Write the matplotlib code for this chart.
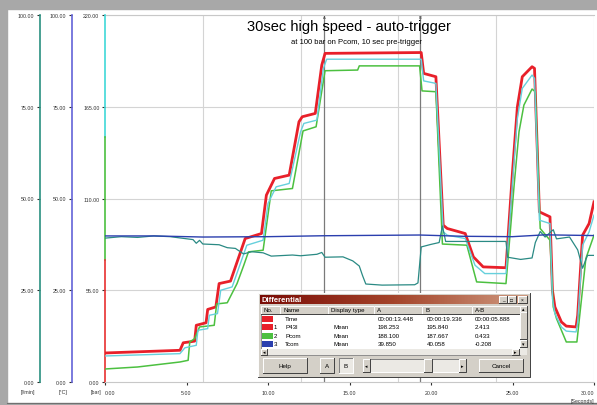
import matplotlib
import numpy as np
matplotlib.use("Agg")  # headless, we only save a PNG
import matplotlib.pyplot as plt
from matplotlib.colors import LinearSegmentedColormap
from matplotlib.patches import Rectangle

plt.rcParams["font.family"] = ["Liberation Sans", "DejaVu Sans"]

# --- traces (time in s) ---
P43L_T = [0, 4.6, 4.8, 5.5, 5.6, 6.2, 6.3, 6.8, 7.0, 7.7, 8.6, 9.6, 9.9, 10.4, 11.3, 11.9, 12.1, 12.9,
          13.3, 13.5, 19.4, 19.55, 20.3, 20.75, 21.0, 22.1, 22.6, 23.2, 24.6, 25.0, 25.3, 25.6, 26.2,
          26.35, 26.65, 27.3, 27.45, 27.6, 28.0, 28.3, 28.9, 29.0, 29.3, 29.7, 30.0]
P43L_BAR = [17.4, 19, 23.5, 24.5, 34, 35.5, 43.5, 45, 59, 60.5, 86, 89, 112, 122, 124, 156, 159, 161,
            190, 197, 197.5, 185, 183, 94, 92, 89, 75, 69, 68.5, 126, 165, 183, 189,
            188, 102, 99, 55, 45, 36, 33.5, 33, 40, 88, 95, 108]

PCYAN_T = [0, 4.6, 4.9, 5.6, 5.7, 6.3, 6.4, 6.9, 7.1, 7.8, 8.7, 9.7, 10.0, 10.5, 11.3, 12.0, 12.2, 13.0,
           13.4, 13.6, 19.4, 19.55, 20.3, 20.75, 21.0, 22.1, 22.7, 23.3, 24.6, 25.0, 25.3, 25.6, 26.2,
           26.35, 26.65, 27.3, 27.45, 27.6, 28.0, 28.3, 28.9, 29.0, 29.3, 29.7, 30.0]
PCYAN_BAR = [15.6, 17, 20.5, 22, 31, 32, 40, 41, 55, 57, 82, 85, 107, 117, 119, 150, 155, 157,
             188, 193.5, 193.5, 180.5, 179, 90, 88, 86, 70, 65, 65, 120, 158, 176, 184,
             182, 97, 95, 50, 41, 33, 30.5, 30, 36, 82, 90, 100]

PCOM_T = [0, 2.0, 4.6, 5.1, 5.2, 5.5, 5.8, 6.7, 6.85, 7.5, 8.1, 8.5, 8.8, 9.7, 10.2, 11.5, 12.15, 12.95,
          13.5, 15.5, 15.6, 19.3, 19.45, 20.3, 20.7, 22.2, 22.8, 24.6, 25.1, 25.4, 25.7, 26.2,
          26.4, 26.7, 27.3, 27.5, 27.7, 28.3, 28.95, 29.5, 30.0]
PCOM_BAR = [7.8, 9, 12, 13, 24, 26, 33, 34, 46.8, 47.5, 59, 69.6, 78, 79, 114.6, 116, 150.5, 153,
            186.6, 187, 189.5, 189.5, 174.5, 174, 82.7, 82, 60, 59, 118, 150, 166, 175.6,
            174, 92, 85, 45, 38, 24, 24, 74, 88]

FLOW_T = [0, 1, 2, 3, 4, 5.4, 5.6, 5.8, 6.0, 7.0, 7.5, 8.0, 8.5, 9.0, 9.7, 10.2, 11.5, 12.0, 13.0, 13.3,
          13.5, 14.6, 15.2, 15.6, 15.8, 16.0, 17.0, 19.0, 19.2, 19.4, 20.0, 20.5, 20.7, 20.9, 24.6,
          24.7, 25.5, 26.2, 26.4, 26.7, 27.0, 27.5, 27.7, 28.5, 29.0, 29.3, 29.6, 30.0]
FLOW_LMIN = [39.2, 39.6, 39.4, 39.8, 39.6, 38.8, 37.8, 38.6, 37.6, 37.4, 36.6, 36.4, 34.9, 35.5, 35.2,
             34.3, 34.6, 34.4, 34.8, 35.3, 34.0, 34.1, 33.0, 31.6, 29.0, 26.7, 26.4, 26.5, 27.0, 36.8,
             37.5, 38.0, 42.5, 38.3, 38.3, 34.0, 33.4, 33.8, 38.0, 41.0, 39.5, 41.5, 39.0, 39.5, 36.0,
             31.0, 34.5, 34.5]

TCOM_T = [0, 3, 6, 10, 13.4, 19.3, 22, 25, 27, 30]
TCOM_C = [39.8, 39.8, 39.5, 39.6, 39.85, 40.05, 39.7, 39.6, 40.1, 39.9]

CURSOR_A = 13.448
CURSOR_B = 19.336

X_TICKS = [0, 5, 10, 15, 20, 25, 30]
X_GRID = [6, 12, 18, 24, 30]
BAR_TICKS = [0, 55, 110, 165, 220]
PCT_TICKS = [0, 25, 50, 75, 100]

# differential dialog contents
DIFF_NO = ["", "1", "2", "3"]
DIFF_NAME = ["Time", "P43l", "Pcom", "Tcom"]
DIFF_TYPE = ["", "Mean", "Mean", "Mean"]
DIFF_A = ["00:00:13.448", "198.253", "188.100", "39.850"]
DIFF_B = ["00:00:19.336", "195.840", "187.667", "40.058"]
DIFF_AB = ["00:00:05.888", "2.413", "0.433", "-0.208"]

RED = "#e8202a"
CYAN = "#66d0dc"
GREEN = "#4cc040"
BLUE = "#2b3fae"
TEAL = "#2a8a84"
DIFF_SWATCH = [RED, RED, GREEN, BLUE]

W, H = 597, 406
L, T, R, B = 105, 16, 594, 383


def rect(left, top, right, bottom):
    return [left / W, 1 - bottom / H, (right - left) / W, (bottom - top) / H]


fig = plt.figure(figsize=(W / 100, H / 100), dpi=100, facecolor="white")

ax = fig.add_axes(rect(L, T, R, B))
ax.set_xlim(0, 30)
ax.set_ylim(0, 220)
for y in BAR_TICKS[1:]:
    ax.axhline(y, color="#d4d4d4", lw=0.8, zorder=0)
for x in X_GRID:
    ax.axvline(x, color="#d4d4d4", lw=0.8, zorder=0)
for x in (CURSOR_A, CURSOR_B):
    ax.axvline(x, color="#7a7a7a", lw=0.9, zorder=1)
ax.text(CURSOR_A, 220, "A", ha="center", va="top", fontsize=3.0, color="#404040")
ax.text(CURSOR_B, 220, "B", ha="center", va="top", fontsize=3.0, color="#404040")

ax.plot(P43L_T, P43L_BAR, color=RED, lw=2.0, zorder=3)
ax.plot(PCOM_T, PCOM_BAR, color=GREEN, lw=1.1, zorder=3)
ax.plot(PCYAN_T, PCYAN_BAR, color=CYAN, lw=1.0, zorder=3)

for side in ("top", "right", "left"):
    ax.spines[side].set_visible(False)
ax.spines["bottom"].set_color("#c8c8c8")
ax.axhline(220, color="#c8c8c8", lw=0.8, clip_on=False)
# the bar scale spine is split in three colours
ax.axvline(0, 2 / 3, 1, color="#40d8d8", lw=1.2, clip_on=False)
ax.axvline(0, 1 / 3, 2 / 3, color=GREEN, lw=1.2, clip_on=False)
ax.axvline(0, 0, 1 / 3, color="#e83030", lw=1.2, clip_on=False)

ax.set_xticks(X_TICKS)
ax.set_xticklabels([f"{v:.2f}" for v in X_TICKS])
ax.set_yticks(BAR_TICKS)
ax.set_yticklabels([f"{v:.2f}" for v in BAR_TICKS])
ax.tick_params(axis="both", direction="out", length=2.5, width=0.8, colors="#303030",
               labelsize=3.8, pad=1.5)
ax.tick_params(axis="x", pad=3)
xl = ax.get_xticklabels()
xl[0].set_ha("left")
xl[-1].set_ha("right")


def left_scale(a, xpx, color, ticks):
    for s in a.spines.values():
        s.set_visible(False)
    a.spines["left"].set_visible(True)
    a.spines["left"].set_position(("axes", (xpx - L) / (R - L)))
    a.spines["left"].set_color(color)
    a.spines["left"].set_linewidth(1.2)
    a.yaxis.set_ticks_position("left")
    a.set_ylim(0, 100)
    a.set_yticks(ticks)
    a.set_yticklabels([f"{v:.2f}" for v in ticks])
    a.tick_params(axis="y", direction="out", length=2.5, width=0.8, colors="#303030",
                  labelsize=3.8, pad=1.5)


ax_flow = ax.twinx()
left_scale(ax_flow, 40, "#2a9080", PCT_TICKS)
ax_flow.plot(FLOW_T, FLOW_LMIN, color=TEAL, lw=0.9)

ax_temp = ax.twinx()
left_scale(ax_temp, 72, "#6464d8", PCT_TICKS)
ax_temp.plot(TCOM_T, TCOM_C, color=BLUE, lw=1.0)

# overlay in pixel coordinates for the window chrome and the dialog
ov = fig.add_axes([0, 0, 1, 1], zorder=10)
ov.patch.set_visible(False)

ov.text(349, 27.5, "30sec high speed - auto-trigger", ha="center", va="center", fontsize=10.5)
ov.text(356, 42.5, "at 100 bar on Pcom, 10 sec pre-trigger", ha="center", va="center", fontsize=5.5)
for text, x in (("[l/min]", 28), ("[°C]", 63), ("[bar]", 96)):
    ov.text(x, 392.7, text, ha="center", va="center", fontsize=3.8, color="#303030")
ov.text(594, 401.5, "[Seconds]", ha="right", va="center", fontsize=3.8, color="#303030")

FRAME = "#a8a8a8"
ov.add_patch(Rectangle((0, 0), W, 10, color=FRAME))
ov.add_patch(Rectangle((0, 0), 7, H, color=FRAME))
ov.add_patch(Rectangle((0, 403.5), W, 3, color=FRAME))
ov.plot([7, W], [403.5, 403.5], color="#707070", lw=0.8)

FACE = "#d4d0c8"
TRACK = "#ebe9e4"


def bevel(x0, y0, x1, y1, face=FACE, sunken=False, z=20):
    ov.add_patch(Rectangle((x0, y0), x1 - x0, y1 - y0, facecolor=face, edgecolor="none", zorder=z))
    hi, lo = ("#808080", "#ffffff") if sunken else ("#ffffff", "#404040")
    ov.plot([x0, x0, x1], [y1, y0, y0], color=hi, lw=0.7, zorder=z + 0.5)
    ov.plot([x0, x1, x1], [y1, y1, y0], color=lo, lw=0.7, zorder=z + 0.5)


def label(x, y, s, ha="left", size=4.4, **kw):
    ov.text(x, y, s, ha=ha, va="center", fontsize=size, zorder=25, **kw)


bevel(258, 294, 530, 378)
grad = LinearSegmentedColormap.from_list("tb", ["#7a0c06", "#a4442a", "#cf9a80"])
ov.imshow(np.linspace(0, 1, 256)[None, :], cmap=grad, extent=(260, 528, 305, 296),
          aspect="auto", zorder=21)
label(262, 300.6, "Differential", size=5.5, color="white", fontweight="bold")
for (x0, x1), glyph in zip(((499, 507), (508, 516), (518, 527)), ("_", "□", "×")):
    bevel(x0, 297, x1, 304, z=22)
    label((x0 + x1) / 2, 300.3, glyph, ha="center", size=3.5)

# list view
ov.add_patch(Rectangle((261, 307), 259, 49, facecolor="white", edgecolor="#808080", lw=0.6, zorder=20))
cols = [261, 280, 328, 374, 422, 472, 520]
heads = ["No.", "Name", "Display type", "A", "B", "A-B"]
for (x0, x1), head in zip(zip(cols[:-1], cols[1:]), heads):
    bevel(x0, 307, x1, 315, z=21)
    label(x0 + 3, 311, head)
row_y = [320, 328, 336.5, 344.5]
for y, no, name, kind, a, b, ab, c in zip(row_y, DIFF_NO, DIFF_NAME, DIFF_TYPE,
                                          DIFF_A, DIFF_B, DIFF_AB, DIFF_SWATCH):
    ov.add_patch(Rectangle((262, y - 3), 11, 6, facecolor=c, edgecolor="none", zorder=21))
    label(274, y, no)
    label(285, y, name)
    label(333, y, kind)
    label(378, y, a)
    label(427, y, b)
    label(475, y, ab)

# scroll bars
ov.add_patch(Rectangle((261, 350), 259, 6, facecolor=TRACK, edgecolor="none", zorder=21))
bevel(261, 350, 267, 356, z=22)
label(264, 353, "◂", ha="center", size=3.5)
bevel(512, 350, 519, 356, z=22)
label(515.5, 353, "▸", ha="center", size=3.5)
ov.add_patch(Rectangle((520, 307), 7, 49, facecolor=TRACK, edgecolor="none", zorder=21))
bevel(520, 307, 527, 313, z=22)
label(523.5, 310, "▴", ha="center", size=3.5)
bevel(520, 313, 527, 340, z=22)
bevel(520, 341, 527, 348, z=22)
label(523.5, 344.5, "▾", ha="center", size=3.5)

# button row
bevel(263, 359, 307, 374)
label(285, 366.5, "Help", ha="center", size=4.5)
bevel(320, 359, 334, 374)
label(327, 366.5, "A", ha="center", size=4.5)
bevel(339, 359, 353, 374, face=TRACK, sunken=True)
label(346, 366.5, "B", ha="center", size=4.5)
bevel(363, 360, 466, 373, face=TRACK, sunken=True)
bevel(363, 360, 370, 373, z=22)
label(366.5, 366.5, "◂", ha="center", size=3.5)
bevel(424, 360, 432, 373, z=22)
bevel(459, 360, 466, 373, z=22)
label(462.5, 366.5, "▸", ha="center", size=3.5)
bevel(479, 360, 523, 373)
label(501, 366.5, "Cancel", ha="center", size=4.5)

ov.set_xlim(0, W)
ov.set_ylim(H, 0)
ov.axis("off")

fig.savefig("out.png", dpi=100, facecolor=fig.get_facecolor())
